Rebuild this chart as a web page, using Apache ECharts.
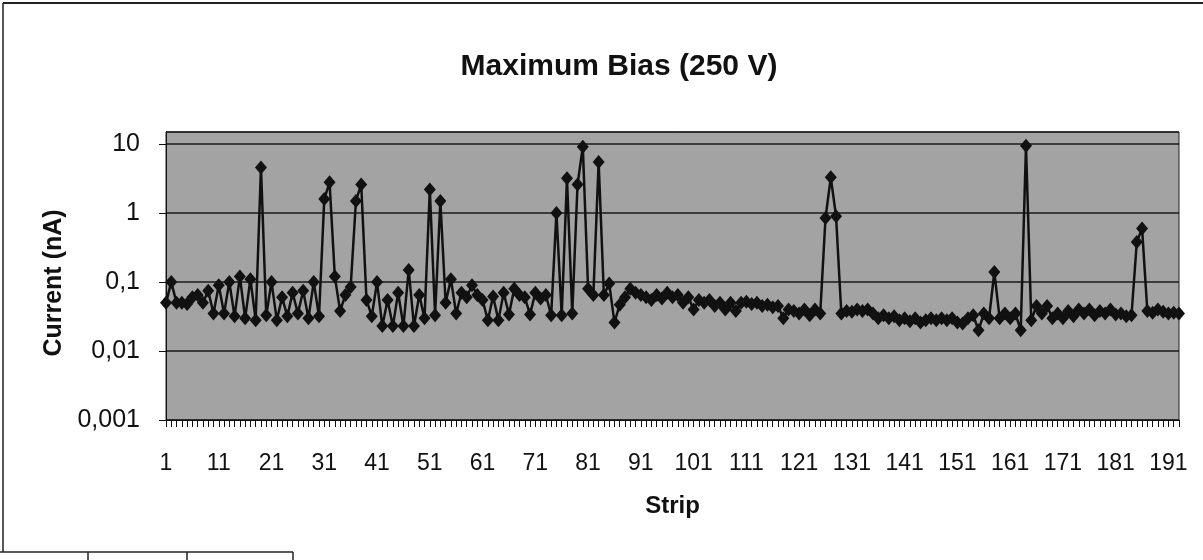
<!DOCTYPE html>
<html>
<head>
<meta charset="utf-8">
<script src="https://cdn.jsdelivr.net/npm/echarts@6/dist/echarts.min.js"></script>
<style>
    html, body { margin: 0; padding: 0; background: #ffffff; }
    #chart { width: 1203px; height: 560px; }
</style>
</head>
<body>
<div id="chart"></div>
<script>
// leakage current per strip (nA)
var current = [
    0.05, 0.1, 0.05, 0.05, 0.048, 0.06, 0.065, 0.05, 0.075, 0.035,
    0.09, 0.035, 0.1, 0.032, 0.12, 0.03, 0.11, 0.028, 4.6, 0.033,
    0.1, 0.028, 0.06, 0.032, 0.07, 0.035, 0.075, 0.03, 0.1, 0.032,
    1.6, 2.8, 0.12, 0.038, 0.065, 0.085, 1.5, 2.6, 0.055, 0.032,
    0.1, 0.023, 0.055, 0.023, 0.07, 0.023, 0.15, 0.023, 0.065, 0.03,
    2.2, 0.033, 1.5, 0.05, 0.11, 0.035, 0.07, 0.06, 0.09, 0.065,
    0.055, 0.028, 0.062, 0.028, 0.07, 0.034, 0.08, 0.065, 0.06, 0.034,
    0.07, 0.058, 0.065, 0.033, 1.0, 0.033, 3.2, 0.035, 2.6, 9.2,
    0.08, 0.065, 5.5, 0.065, 0.095, 0.026, 0.047, 0.06, 0.08, 0.07,
    0.065, 0.06, 0.055, 0.065, 0.058, 0.07, 0.06, 0.065, 0.05, 0.06,
    0.04, 0.055, 0.05, 0.055, 0.045, 0.05, 0.04, 0.05, 0.038, 0.05,
    0.052, 0.048, 0.05, 0.045, 0.047, 0.043, 0.045, 0.03, 0.04, 0.038,
    0.035, 0.04, 0.033, 0.04, 0.035, 0.85, 3.3, 0.9, 0.035, 0.038,
    0.037, 0.04, 0.038, 0.04, 0.035, 0.03, 0.033, 0.03, 0.032, 0.028,
    0.03, 0.027, 0.03, 0.026, 0.028, 0.03, 0.028, 0.03, 0.028, 0.03,
    0.026, 0.025, 0.03, 0.033, 0.02, 0.035, 0.03, 0.14, 0.03, 0.035,
    0.03, 0.035, 0.02, 9.5, 0.028, 0.045, 0.035, 0.045, 0.03, 0.035,
    0.03, 0.038, 0.032, 0.04, 0.035, 0.04, 0.033, 0.038, 0.035, 0.04,
    0.034, 0.035, 0.032, 0.033, 0.38, 0.6, 0.038, 0.036, 0.04, 0.037,
    0.035, 0.036, 0.035
];

var strips = [];
for (var i = 1; i <= current.length; i++) {
    strips.push(String(i));
}

var yMin = 0.001;
var yMax = 15;

var chart = echarts.init(document.getElementById('chart'));
var option = {
    backgroundColor: '#ffffff',
    animation: false,
    title: {
        text: 'Maximum Bias (250 V)',
        left: 614,
        top: 47,
        textAlign: 'center',
        textStyle: {
            fontFamily: 'Liberation Sans',
            fontSize: 30,
            fontWeight: 'bold',
            color: '#111111'
        }
    },
    grid: {
        left: 166,
        right: 24,
        top: 132,
        bottom: 140,
        show: true,
        backgroundColor: '#a3a3a3',
        borderColor: '#222222',
        borderWidth: 1
    },
    xAxis: {
        type: 'category',
        data: strips,
        boundaryGap: false,
        name: 'Strip',
        nameLocation: 'middle',
        nameGap: 74,
        nameTextStyle: {
            fontFamily: 'Liberation Sans',
            fontSize: 24,
            fontWeight: 'bold',
            color: '#111111'
        },
        axisLine: { lineStyle: { color: '#111111', width: 1 } },
        axisTick: { interval: 0, length: 7, lineStyle: { color: '#111111' } },
        axisLabel: {
            interval: 9,
            margin: 32,
            fontFamily: 'Liberation Sans',
            fontSize: 23,
            color: '#111111'
        },
        splitLine: { show: false }
    },
    yAxis: {
        type: 'log',
        logBase: 10,
        min: yMin,
        max: yMax,
        name: 'Current (nA)',
        nameLocation: 'middle',
        nameRotate: 90,
        nameGap: 96,
        nameTextStyle: {
            fontFamily: 'Liberation Sans',
            fontSize: 25,
            fontWeight: 'bold',
            color: '#111111',
            padding: [0, 14, 0, 0]
        },
        axisLine: { show: true, lineStyle: { color: '#111111', width: 1 } },
        axisTick: { show: true, length: 7, lineStyle: { color: '#111111' } },
        axisLabel: {
            showMaxLabel: false,
            margin: 26,
            fontFamily: 'Liberation Sans',
            fontSize: 25,
            color: '#111111',
            formatter: function (v) {
                return String(Number(v.toPrecision(6))).replace('.', ',');
            }
        },
        splitLine: { show: true, lineStyle: { color: '#1a1a1a', width: 1.5 } },
        minorTick: { show: false }
    },
    series: [{
        type: 'line',
        data: current,
        symbol: 'diamond',
        symbolSize: [12, 14],
        showAllSymbol: true,
        lineStyle: { color: '#111111', width: 2.5 },
        itemStyle: { color: '#111111' }
    }],
    graphic: [
        { type: 'line', shape: { x1: 3, y1: 3, x2: 1203, y2: 3 }, style: { stroke: '#222', lineWidth: 2 } },
        { type: 'line', shape: { x1: 3, y1: 3, x2: 3, y2: 552 }, style: { stroke: '#222', lineWidth: 1.5 } },
        { type: 'line', shape: { x1: 0, y1: 552, x2: 293, y2: 552 }, style: { stroke: '#222', lineWidth: 1.5 } },
        { type: 'line', shape: { x1: 88, y1: 552, x2: 88, y2: 560 }, style: { stroke: '#222', lineWidth: 1.5 } },
        { type: 'line', shape: { x1: 187, y1: 552, x2: 187, y2: 560 }, style: { stroke: '#222', lineWidth: 1.5 } },
        { type: 'line', shape: { x1: 293, y1: 552, x2: 293, y2: 560 }, style: { stroke: '#222', lineWidth: 1.5 } }
    ]
};
chart.setOption(option);
</script>
</body>
</html>
